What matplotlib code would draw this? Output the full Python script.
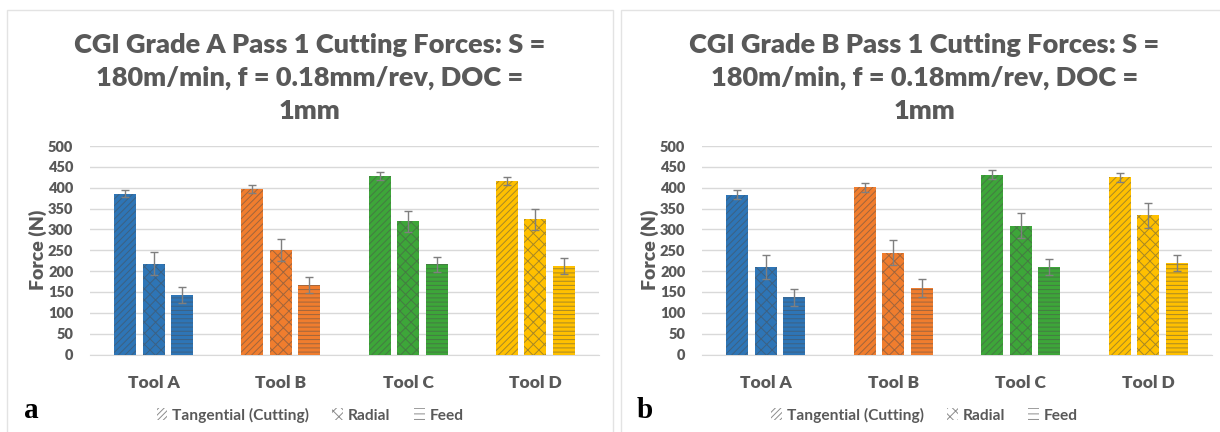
import numpy as np
import matplotlib
matplotlib.use("Agg")
import matplotlib.pyplot as plt
from matplotlib.patches import Patch, Rectangle
from matplotlib.colors import to_rgb

# ---------------- data ----------------
tools = ["Tool A", "Tool B", "Tool C", "Tool D"]
series = ["Tangential (Cutting)", "Radial", "Feed"]

gradeA_tangential = [386, 397, 428, 416]
gradeA_radial = [218, 251, 319, 324]
gradeA_feed = [143, 166, 216, 213]
gradeA_tangential_err = [9, 10, 9, 10]
gradeA_radial_err = [27, 26, 26, 26]
gradeA_feed_err = [19, 19, 19, 19]

gradeB_tangential = [383, 401, 431, 425]
gradeB_radial = [210, 244, 309, 334]
gradeB_feed = [137, 160, 210, 220]
gradeB_tangential_err = [11, 11, 11, 11]
gradeB_radial_err = [28, 30, 30, 30]
gradeB_feed_err = [20, 21, 20, 19]

titles = [
    "CGI Grade A Pass 1 Cutting Forces: S =\n180m/min, f = 0.18mm/rev, DOC =\n1mm",
    "CGI Grade B Pass 1 Cutting Forces: S =\n180m/min, f = 0.18mm/rev, DOC =\n1mm",
]
panel_letters = ["a", "b"]
y_ticks = [0, 50, 100, 150, 200, 250, 300, 350, 400, 450, 500]
tool_colors = ["#2E75B6", "#F07D2E", "#3DA639", "#FFC000"]
hatches = ["/////", "xxx", "----"]

# ---------------- style ----------------
TXT = "#595959"
GRID = "#D9D9D9"
FONT = "Lato"
plt.rcParams["font.family"] = [FONT, "DejaVu Sans"]
plt.rcParams["hatch.linewidth"] = 0.7

W, H = 1220, 432
fig = plt.figure(figsize=(W / 100, H / 100), dpi=100)


def mix(c, other, t):
    a = np.array(to_rgb(c))
    b = np.array(to_rgb(other))
    return tuple(a * (1 - t) + b * t)


def panel(ax_rect, vals, errs, title, letter, px0, px1):
    ax = fig.add_axes(ax_rect)
    x = np.arange(len(tools))
    width = 0.172
    step = 0.224
    for s, (v, e) in enumerate(zip(vals, errs)):
        offs = (s - 1) * step
        for i in range(len(tools)):
            ax.bar(x[i] + offs, v[i], width=width, color=tool_colors[i],
                   edgecolor=mix(tool_colors[i], "#4d4d4d", 0.5),
                   hatch=hatches[s], linewidth=0, zorder=3)
        ax.errorbar(x + offs, v, yerr=e, fmt="none", ecolor="#7F7F7F",
                    elinewidth=1, capsize=3, capthick=1, zorder=4)
    ax.set_xlim(-0.5, len(tools) - 0.5)
    ax.set_ylim(0, 500)
    ax.set_yticks(y_ticks)
    ax.set_xticks(x)
    ax.set_xticklabels(tools)
    ax.grid(axis="y", color=GRID, linewidth=1, zorder=0)
    ax.set_axisbelow(True)
    for sp in ["top", "right", "left"]:
        ax.spines[sp].set_visible(False)
    ax.spines["bottom"].set_color(GRID)
    ax.tick_params(axis="both", length=0, colors=TXT)
    ax.tick_params(axis="y", pad=12)
    ax.tick_params(axis="x", pad=15)
    for lab in ax.get_yticklabels():
        lab.set_fontsize(10.5)
        lab.set_fontweight("heavy")
    for lab in ax.get_xticklabels():
        lab.set_fontsize(12.5)
        lab.set_fontweight("heavy")
    ax.set_ylabel("Force (N)", fontsize=14, fontweight="heavy", color=TXT, labelpad=1)

    cx = (px0 + px1) / 2 / W
    fig.text(cx, 1 - 78 / H, title, ha="center", va="center", fontsize=19.5,
             fontweight="heavy", color=TXT, linespacing=1.42)

    handles = [Patch(facecolor="white", edgecolor="#8C8C8C", hatch=h, linewidth=0)
               for h in ["//////", "xxx", "---"]]
    fig.legend(handles, series, loc="center", bbox_to_anchor=(cx, 1 - 415 / H),
               ncol=3, frameon=False, handlelength=0.7, handleheight=0.8,
               handletextpad=0.3, columnspacing=1.5,
               prop={"family": FONT, "size": 11.2, "weight": "bold"},
               labelcolor=TXT)
    fig.text((px0 + 24) / W, 1 - 411 / H, letter, ha="center", va="center",
             fontsize=21, fontweight="bold", family="Liberation Serif", color="black")
    fig.patches.append(Rectangle((px0 / W, -0.05), (px1 - px0) / W, 1 - 10 / H + 0.05,
                                 transform=fig.transFigure, fill=False,
                                 edgecolor="#E3E3E3", linewidth=1, zorder=0))
    return ax


bottom = 1 - 354.5 / H
height = 208.5 / H
panel([90 / W, bottom, 509 / W, height],
      [gradeA_tangential, gradeA_radial, gradeA_feed],
      [gradeA_tangential_err, gradeA_radial_err, gradeA_feed_err],
      titles[0], panel_letters[0], 7, 613)
panel([702 / W, bottom, 510 / W, height],
      [gradeB_tangential, gradeB_radial, gradeB_feed],
      [gradeB_tangential_err, gradeB_radial_err, gradeB_feed_err],
      titles[1], panel_letters[1], 621, 1228)

fig.savefig("out.png", dpi=100, facecolor="white")
